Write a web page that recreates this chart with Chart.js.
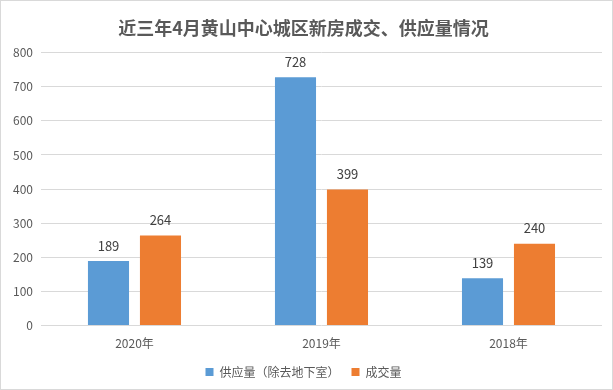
<!DOCTYPE html>
<html>
<head>
<meta charset="utf-8">
<script src="https://cdn.jsdelivr.net/npm/chart.js@4"></script>
<style>
  html, body { margin: 0; padding: 0; background: #fff; }
  #wrap { width: 611px; height: 388px; border: 1px solid #d9d9d9; }
</style>
</head>
<body>
<div id="wrap"><canvas id="c" width="611" height="388"></canvas></div>
<script>
const CATEGORIES = ['2020年', '2019年', '2018年'];
const SUPPLY = [189, 728, 139];
const DEALS = [264, 399, 240];
const SERIES_NAMES = ['供应量（除去地下室）', '成交量'];
const TITLE = '近三年4月黄山中心城区新房成交、供应量情况';

const FONT = '"Noto Sans CJK SC", "Noto Sans", sans-serif';

// value labels above each bar
const barLabels = {
  id: 'barLabels',
  afterDatasetsDraw(chart) {
    const { ctx } = chart;
    ctx.save();
    ctx.font = '13px ' + FONT;
    ctx.fillStyle = '#404040';
    ctx.textAlign = 'center';
    ctx.textBaseline = 'bottom';
    chart.data.datasets.forEach((ds, i) => {
      chart.getDatasetMeta(i).data.forEach((bar, j) => {
        ctx.fillText(ds.data[j], bar.x, bar.y - 9);
      });
    });
    ctx.restore();
  }
};

new Chart(document.getElementById('c'), {
  type: 'bar',
  data: {
    labels: CATEGORIES,
    datasets: [
      { label: SERIES_NAMES[0], data: SUPPLY, backgroundColor: '#5B9BD5' },
      { label: SERIES_NAMES[1], data: DEALS, backgroundColor: '#ED7D31' },
    ],
  },
  options: {
    responsive: false,
    animation: false,
    layout: { padding: { left: 4, right: 10, top: 4, bottom: 1 } },
    datasets: { bar: { categoryPercentage: 0.556, barPercentage: 0.79 } },
    plugins: {
      title: {
        display: true,
        text: TITLE,
        color: '#595959',
        font: { family: FONT, size: 18, weight: 'bold' },
        padding: { top: 12, bottom: 14 },
      },
      legend: {
        position: 'bottom',
        labels: {
          color: '#595959',
          font: { family: FONT, size: 12 },
          boxWidth: 8,
          boxHeight: 8,
          padding: 12,
        },
      },
      tooltip: { enabled: false },
    },
    scales: {
      x: {
        grid: { display: false },
        border: { display: false },
        ticks: { color: '#595959', font: { family: FONT, size: 12 } },
      },
      y: {
        min: 0,
        max: 800,
        ticks: { stepSize: 100, color: '#595959', font: { family: FONT, size: 12 }, padding: 8 },
        grid: { color: '#d9d9d9', drawTicks: false },
        border: { display: false },
      },
    },
  },
  plugins: [barLabels],
});
</script>
</body>
</html>
